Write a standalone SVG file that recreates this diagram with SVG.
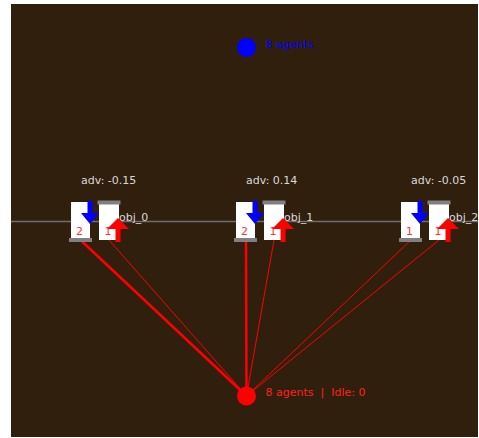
<svg xmlns="http://www.w3.org/2000/svg" width="479" height="438" viewBox="0 0 479 438">
<style>
text{font-family:"DejaVu Sans","Liberation Sans",sans-serif;font-size:11px}
.lbl{fill:#d8d8d8}
.box{fill:#ffffff}
.bar{fill:#808080}
.cnt{fill:#ff3333;text-anchor:middle}
.blue{fill:#0000ff}
.red{fill:#ff0000}
.conn{stroke:#ff0000;fill:none}
</style>
<defs>
<g id="downArrow"><rect x="-2.5" y="0" width="5" height="13" class="blue"/><polygon points="-9,12 9,12 0,23" class="blue"/></g>
<g id="upArrow"><polygon points="-11,11 11,11 0,0" class="red"/><rect x="-2.5" y="10" width="5" height="14" class="red"/></g>
</defs>
<rect x="0" y="0" width="479" height="438" fill="#ffffff"/>
<rect x="11" y="4" width="467" height="433" fill="#311f0d"/>
<line x1="11" y1="221.5" x2="478" y2="221.5" stroke="#6e6e6e" stroke-width="1.5"/>
<g id="connectors">
<line class="conn" x1="80.5" y1="240" x2="246.5" y2="396" stroke-width="2.5"/>
<line class="conn" x1="109" y1="240" x2="246.5" y2="396" stroke-width="1"/>
<line class="conn" x1="246" y1="240" x2="246.5" y2="396" stroke-width="2.5"/>
<line class="conn" x1="274" y1="240" x2="246.5" y2="396" stroke-width="1"/>
<line class="conn" x1="411" y1="240" x2="246.5" y2="396" stroke-width="1"/>
<line class="conn" x1="439" y1="240" x2="246.5" y2="396" stroke-width="1"/>
</g>
<g id="obj_0">
<text class="lbl" x="81" y="184">adv: -0.15</text>
<text class="lbl" x="119" y="221">obj_0</text>
<rect class="box" x="71" y="202" width="19" height="37"/>
<rect class="bar" x="69" y="238" width="23" height="4"/>
<rect class="box" x="99" y="204" width="20" height="36"/>
<rect class="bar" x="97.5" y="200.5" width="23" height="4"/>
<text class="cnt" x="79.5" y="235">2</text>
<text class="cnt" x="108" y="235">1</text>
<use href="#downArrow" x="90" y="201"/>
<use href="#upArrow" x="118" y="218"/>
</g>
<g id="obj_1">
<text class="lbl" x="246" y="184">adv: 0.14</text>
<text class="lbl" x="284" y="221">obj_1</text>
<rect class="box" x="236" y="202" width="19" height="37"/>
<rect class="bar" x="234" y="238" width="23" height="4"/>
<rect class="box" x="264" y="204" width="20" height="36"/>
<rect class="bar" x="262.5" y="200.5" width="23" height="4"/>
<text class="cnt" x="244.5" y="235">2</text>
<text class="cnt" x="273" y="235">1</text>
<use href="#downArrow" x="255" y="201"/>
<use href="#upArrow" x="283" y="218"/>
</g>
<g id="obj_2">
<text class="lbl" x="411" y="184">adv: -0.05</text>
<text class="lbl" x="449" y="221">obj_2</text>
<rect class="box" x="401" y="202" width="19" height="37"/>
<rect class="bar" x="399" y="238" width="23" height="4"/>
<rect class="box" x="429" y="204" width="20" height="36"/>
<rect class="bar" x="427.5" y="200.5" width="23" height="4"/>
<text class="cnt" x="409.5" y="235">1</text>
<text class="cnt" x="438" y="235">1</text>
<use href="#downArrow" x="420" y="201"/>
<use href="#upArrow" x="448" y="218"/>
</g>
<g id="agents_top">
<circle cx="246.5" cy="47.5" r="9.5" class="blue"/>
<text x="265.5" y="48" class="blue">8 agents</text>
</g>
<g id="agents_bottom">
<circle cx="246.5" cy="396" r="9.5" class="red"/>
<text x="265.5" y="396" fill="#ff2020" xml:space="preserve">8 agents  |  Idle: 0</text>
</g>
</svg>
